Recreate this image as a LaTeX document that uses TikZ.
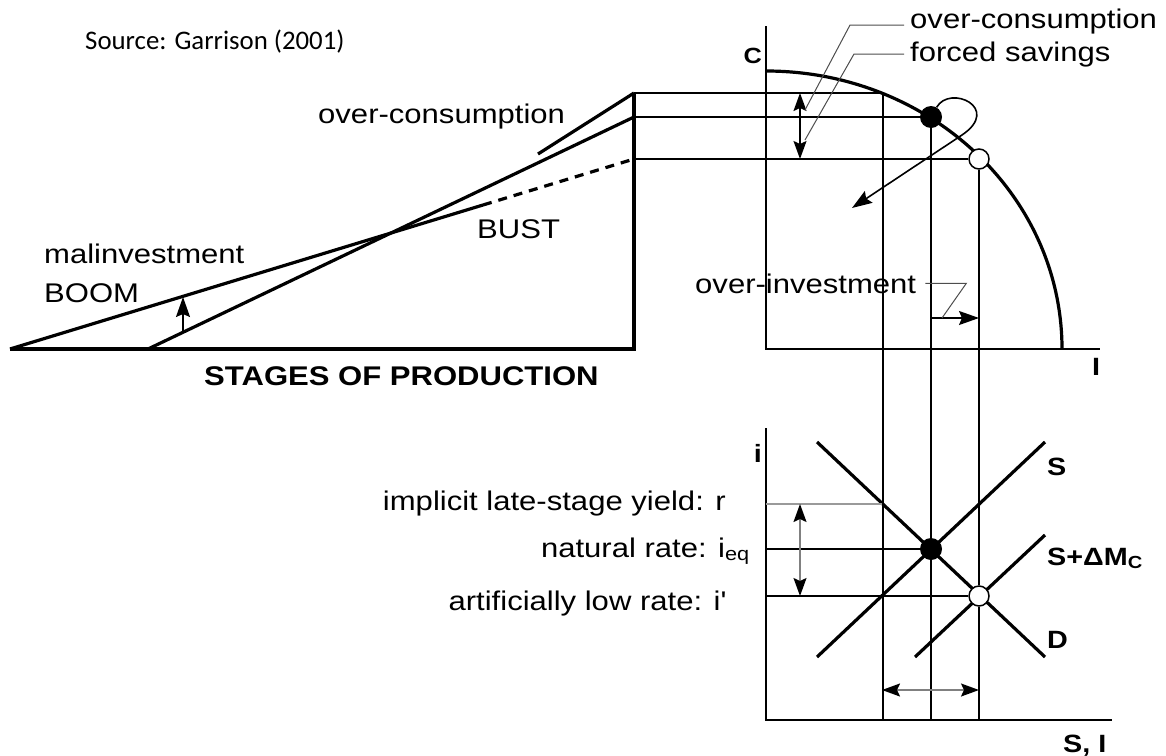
\documentclass[tikz,border=0pt]{standalone}
\usepackage{fontspec}
\setmainfont{Liberation Sans}[FakeStretch=1.15]
\newfontfamily\srcfont{Carlito}
\usetikzlibrary{arrows.meta,calc}
\definecolor{leadGray}{HTML}{4d4d4d}
\definecolor{rGray}{HTML}{9a9a9a}
\definecolor{shaftGray}{HTML}{808080}

\begin{document}
\begin{tikzpicture}[
  x=1pt, y=-1pt,
  font=\fontsize{27}{32}\selectfont,
  lbl/.style   ={inner sep=0pt},
  axlbl/.style ={inner sep=0pt, font=\fontsize{25}{30}\selectfont\bfseries},
  heavy/.style ={line width=3.2pt, line join=miter},
  axisline/.style={line width=2.6pt},
  guide/.style ={line width=1.6pt},
  lead/.style  ={line width=1pt, leadGray},
  tip/.style   ={-{Stealth[length=20pt, width=14pt, inset=3pt, color=black]}},
  dbltip/.style={{Stealth[length=18pt, width=13pt, inset=3pt, color=black]}-{Stealth[length=18pt, width=13pt, inset=3pt, color=black]}},
  fulldot/.style={circle, fill=black, inner sep=0pt, minimum size=22pt},
  opendot/.style={circle, draw=black, fill=white, line width=1.5pt, inner sep=0pt, minimum size=20pt},
]
\useasboundingbox (0,0) rectangle (1166,755);

\node[lbl, anchor=base west, font=\srcfont\fontsize{26.8}{30}\selectfont] (src) at (85,49) {Source: Garrison (2001)};

% ============ Stages of production ============
\coordinate (flat0)     at (10,349);
\coordinate (steep0)    at (148,349);
\coordinate (corner)    at (634,349);
\coordinate (apex)      at (634,93);
\coordinate (kink)      at (634,117);
\coordinate (bustEnd)   at (634,159);
\coordinate (bustStart) at (483,205);
\coordinate (ocStart)   at (538,154);
\coordinate (malLow)    at (183,332);
\coordinate (malHigh)   at (183,297);

\draw[heavy] (flat0) -- (corner) -- (apex);
\draw[heavy] (flat0) -- (bustStart);
\draw[heavy, dash pattern=on 9pt off 7pt] (bustStart) -- (bustEnd);
\draw[heavy] (steep0) -- (kink);
\draw[heavy] (ocStart) -- (apex);
\draw[guide, tip] (malLow) -- (malHigh);

\node[lbl, anchor=base west] (ocLeft) at (318,123) {over-consumption};
\node[lbl, anchor=base west] (bust)   at (477,238) {BUST};
\node[lbl, anchor=base west] (malinv) at (44,263)  {malinvestment};
\node[lbl, anchor=base west] (boom)   at (44,302)  {BOOM};
\node[lbl, anchor=base west, font=\fontsize{27}{32}\selectfont\bfseries] (stages) at (204,385) {STAGES OF PRODUCTION};

% ============ Production possibilities ============
\coordinate (cTop)    at (766,26);
\coordinate (origin)  at (766,349);
\coordinate (iEnd)    at (1100,349);
\coordinate (ppfTop)  at (766,71);
\coordinate (ppfHigh) at (883,93);

\draw[axisline] (cTop) -- (origin) -- (iEnd);
\draw[heavy] (ppfTop) arc[start angle=-90, end angle=0, x radius=296, y radius=278];

\node[axlbl, font=\fontsize{22}{26}\selectfont\bfseries, anchor=base east] (cLbl) at (762,63) {C};
\node[axlbl, anchor=base west] (iLbl) at (1092,375) {I};

% ============ Loanable funds ============
\coordinate (iTop)    at (766,428);
\coordinate (sOrigin) at (766,720);
\coordinate (siEnd)   at (1112,720);
\coordinate (dTop)    at (817,442);
\coordinate (dBot)    at (1045,657);
\coordinate (sBot)    at (817,657);
\coordinate (sTop)    at (1045,442);
\coordinate (smBot)   at (915,657);
\coordinate (smTop)   at (1045,535);

\draw[axisline] (iTop) -- (sOrigin) -- (siEnd);
\draw[heavy] (dTop) -- (dBot);
\draw[heavy] (sBot) -- (sTop);
\draw[heavy] (smBot) -- (smTop);

% ============ Equilibrium points ============
\node[fulldot] (fdotTop) at (931,117) {};
\node[opendot] (odotTop) at (979,159) {};
\node[fulldot] (fdotBot) at (931,549) {};
\node[opendot] (odotBot) at (979,596) {};

% ============ Guide lines ============
\coordinate (v1) at (883,720);
\coordinate (v2) at (931,720);
\coordinate (v3) at (979,720);
\coordinate (rAxis)   at (766,504);
\coordinate (rD)      at (882,504);
\coordinate (eqAxis)  at (766,549);
\coordinate (lowAxis) at (766,596);

\draw[guide] (apex) -- (ppfHigh);
\draw[guide] (kink) -- (fdotTop);
\draw[guide] (bustEnd) -- (odotTop);
\draw[guide] (ppfHigh) -- (v1);
\draw[guide] (fdotTop) -- (fdotBot);
\draw[guide] (fdotBot) -- (v2);
\draw[guide] (odotTop) -- (odotBot);
\draw[guide] (odotBot) -- (v3);
\draw[guide, rGray] (rAxis) -- (rD);
\draw[guide] (eqAxis) -- (fdotBot);
\draw[guide] (lowAxis) -- (odotBot);

% ============ Arrows ============
\coordinate (ocHi)  at (800,93);
\coordinate (ocLo)  at (800,159);
\coordinate (rHi)   at (800,504);
\coordinate (rLo)   at (800,596);
\coordinate (gapL)  at (882,690);
\coordinate (gapR)  at (979,690);
\coordinate (sweepTip) at (852,208);
\coordinate (oiFrom) at (931,318);
\coordinate (oiTo)   at (979,318);

\draw[guide, dbltip] (ocHi) -- (ocLo);
\draw[guide, shaftGray, dbltip] (rHi) -- (rLo);
\draw[guide, shaftGray, dbltip] (gapL) -- (gapR);
\draw[guide, tip] (oiFrom) -- (oiTo);
\draw[guide, tip] (fdotTop.60) .. controls (950,84) and (1002,108) .. (962,135) -- (sweepTip);

% ============ Labels and leaders ============
\node[lbl, anchor=base west] (ocRight) at (910,28) {over-consumption};
\node[lbl, anchor=base west] (fsLbl)   at (910,61) {forced savings};
\node[lbl, anchor=base west] (oiLbl)   at (695,293) {over-investment};
\coordinate (ocTip) at (805,110);
\coordinate (fsTip) at (805,140);
\coordinate (oiTip) at (942,318);

\draw[lead] ($(ocRight.west)+(-6,4)$) -- ++(-54,0) -- (ocTip);
\draw[lead] ($(fsLbl.west)+(-6,0)$) -- ++(-50,0) -- (fsTip);
\draw[lead] ($(oiLbl.east)+(9,0)$) -- ++(41,0) -- (oiTip);

\node[axlbl, anchor=base east] (iAx)    at (762,462) {i};
\node[lbl, anchor=base east]   (rLbl)   at (726,510) {implicit late-stage yield: r};
\node[lbl, anchor=base east]   (eqLbl)  at (750,557) {natural rate: i\textsubscript{eq}};
\node[lbl, anchor=base east]   (lowLbl) at (726,610) {artificially low rate: i\textquotesingle};
\node[axlbl, anchor=base west] (sLbl)   at (1047,475) {S};
\node[axlbl, anchor=base west] (smLbl)  at (1047,565) {S+ΔM\textsubscript{C}};
\node[axlbl, anchor=base west] (dLbl)   at (1047,648) {D};
\node[axlbl, anchor=base west] (siLbl)  at (1063,752) {S, I};

\end{tikzpicture}
\end{document}
